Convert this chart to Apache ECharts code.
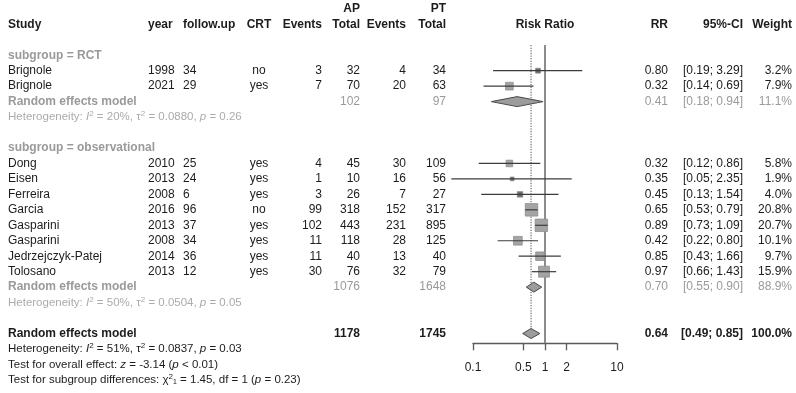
<!DOCTYPE html>
<html>
<head>
<meta charset="utf-8">
<script src="https://cdn.jsdelivr.net/npm/echarts@6/dist/echarts.min.js"></script>
<style>
html, body { margin: 0; padding: 0; background: #fff; }
#forest { width: 796px; height: 393px; }
</style>
</head>
<body>
<div id="forest"></div>
<script>
// studies (one entry per row of the table)
var studies   = ['Brignole', 'Brignole', 'Dong', 'Eisen', 'Ferreira', 'Garcia', 'Gasparini', 'Gasparini', 'Jedrzejczyk-Patej', 'Tolosano'];
var subgroup  = ['RCT', 'RCT', 'observational', 'observational', 'observational', 'observational', 'observational', 'observational', 'observational', 'observational'];
var years     = [1998, 2021, 2010, 2013, 2008, 2016, 2013, 2008, 2014, 2013];
var followUp  = [34, 29, 25, 24, 6, 96, 37, 34, 36, 12];
var crt       = ['no', 'yes', 'yes', 'yes', 'yes', 'no', 'yes', 'yes', 'yes', 'yes'];
var apEvents  = [3, 7, 4, 1, 3, 99, 102, 11, 11, 30];
var apTotal   = [32, 70, 45, 10, 26, 318, 443, 118, 40, 76];
var ptEvents  = [4, 20, 30, 16, 7, 152, 231, 28, 13, 32];
var ptTotal   = [34, 63, 109, 56, 27, 317, 895, 125, 40, 79];
var rr        = [0.80, 0.32, 0.32, 0.35, 0.45, 0.65, 0.89, 0.42, 0.85, 0.97];
var lower     = [0.19, 0.14, 0.12, 0.05, 0.13, 0.53, 0.73, 0.22, 0.43, 0.66];
var upper     = [3.29, 0.69, 0.86, 2.35, 1.54, 0.79, 1.09, 0.80, 1.66, 1.43];
var weight    = [3.2, 7.9, 5.8, 1.9, 4.0, 20.8, 20.7, 10.1, 9.7, 15.9];

// pooled estimates: RCT, observational, overall
var poolGroups  = ['RCT', 'observational', 'overall'];
var poolRR      = [0.41, 0.70, 0.64];
var poolLower   = [0.18, 0.55, 0.49];
var poolUpper   = [0.94, 0.90, 0.85];
var poolWeight  = [11.1, 88.9, 100.0];
var poolApTotal = [102, 1076, 1178];
var poolPtTotal = [97, 1648, 1745];
var hetI2   = ['20%', '50%', '51%'];
var hetTau2 = ['0.0880', '0.0504', '0.0837'];
var hetP    = ['0.26', '0.05', '0.03'];
var overallTest  = 'Test for overall effect: {i|z} = -3.14 ({i|p} < 0.01)';
var subgroupTest = 'Test for subgroup differences: χ{s|2}{i|}₁ = 1.45, df = 1 ({i|p} = 0.23)';

var axisTicks = [0.1, 0.5, 1, 2, 10];

// layout
var ROW0 = 8.86, ROW_H = 15.46;          // pixel y of row 0 and row height
var AXIS_Y = 343.3;
var FONT = 'Liberation Sans, Arial, sans-serif';
var BLACK = '#1c1c1c', GRAY = '#9a9a9a', LIGHT = '#ababab';
var col = { study: 8, year: 148, follow: 183, crt: 259, apEv: 322, apTot: 360,
            ptEv: 406, ptTot: 446, plot: 545, rr: 668, ci: 743, w: 792 };

var styles = {
  b:  { color: BLACK, weight: 'bold',   size: 12 },
  n:  { color: BLACK, weight: 'normal', size: 12 },
  g:  { color: GRAY,  weight: 'normal', size: 12 },
  gb: { color: GRAY,  weight: 'bold',   size: 12 },
  h:  { color: LIGHT, weight: 'normal', size: 11.5 },
  hb: { color: BLACK, weight: 'normal', size: 11.5 }
};

var cells = [];
function cell(x, row, text, align, kind) {
  cells.push({ x: x, row: row, text: String(text), align: align, kind: kind });
}
function ci(l, u) { return '[' + l.toFixed(2) + '; ' + u.toFixed(2) + ']'; }

// header
cell(col.apTot, 0, 'AP', 'right', 'b');
cell(col.ptTot, 0, 'PT', 'right', 'b');
cell(col.study, 1, 'Study', 'left', 'b');
cell(col.year, 1, 'year', 'left', 'b');
cell(col.follow, 1, 'follow.up', 'left', 'b');
cell(col.crt, 1, 'CRT', 'center', 'b');
cell(col.apEv, 1, 'Events', 'right', 'b');
cell(col.apTot, 1, 'Total', 'right', 'b');
cell(col.ptEv, 1, 'Events', 'right', 'b');
cell(col.ptTot, 1, 'Total', 'right', 'b');
cell(col.plot, 1, 'Risk Ratio', 'center', 'b');
cell(col.rr, 1, 'RR', 'right', 'b');
cell(col.ci, 1, '95%-CI', 'right', 'b');
cell(col.w, 1, 'Weight', 'right', 'b');

var studyRows = [], poolRows = [];
var row = 3;
[0, 1].forEach(function (g) {
  cell(col.study, row, 'subgroup = ' + poolGroups[g], 'left', 'gb');
  row++;
  studies.forEach(function (s, i) {
    if (subgroup[i] !== poolGroups[g]) return;
    studyRows[i] = row;
    cell(col.study, row, s, 'left', 'n');
    cell(col.year, row, years[i], 'left', 'n');
    cell(col.follow, row, followUp[i], 'left', 'n');
    cell(col.crt, row, crt[i], 'center', 'n');
    cell(col.apEv, row, apEvents[i], 'right', 'n');
    cell(col.apTot, row, apTotal[i], 'right', 'n');
    cell(col.ptEv, row, ptEvents[i], 'right', 'n');
    cell(col.ptTot, row, ptTotal[i], 'right', 'n');
    cell(col.rr, row, rr[i].toFixed(2), 'right', 'n');
    cell(col.ci, row, ci(lower[i], upper[i]), 'right', 'n');
    cell(col.w, row, weight[i].toFixed(1) + '%', 'right', 'n');
    row++;
  });
  poolRows[g] = row;
  cell(col.study, row, 'Random effects model', 'left', 'gb');
  cell(col.apTot, row, poolApTotal[g], 'right', 'g');
  cell(col.ptTot, row, poolPtTotal[g], 'right', 'g');
  cell(col.rr, row, poolRR[g].toFixed(2), 'right', 'g');
  cell(col.ci, row, ci(poolLower[g], poolUpper[g]), 'right', 'g');
  cell(col.w, row, poolWeight[g].toFixed(1) + '%', 'right', 'g');
  row++;
  cell(col.study, row, 'Heterogeneity: {i|I}{s|2} = ' + hetI2[g] + ', τ{s|2} = ' + hetTau2[g] + ', {i|p} = ' + hetP[g], 'left', 'h');
  row += 2;
});
// overall
poolRows[2] = row;
cell(col.study, row, 'Random effects model', 'left', 'b');
cell(col.apTot, row, poolApTotal[2], 'right', 'b');
cell(col.ptTot, row, poolPtTotal[2], 'right', 'b');
cell(col.rr, row, poolRR[2].toFixed(2), 'right', 'b');
cell(col.ci, row, ci(poolLower[2], poolUpper[2]), 'right', 'b');
cell(col.w, row, poolWeight[2].toFixed(1) + '%', 'right', 'b');
cell(col.study, row + 1, 'Heterogeneity: {i|I}{s|2} = ' + hetI2[2] + ', τ{s|2} = ' + hetTau2[2] + ', {i|p} = ' + hetP[2], 'left', 'hb');
cell(col.study, row + 2, overallTest, 'left', 'hb');
cell(col.study, row + 3, subgroupTest, 'left', 'hb');

var yMin = -ROW0 / ROW_H;
var yAxisEnd = (AXIS_Y - ROW0) / ROW_H;
var lineTop = 2.34;

var myChart = echarts.init(document.getElementById('forest'), null, { renderer: 'canvas' });

var option = {
  animation: false,
  backgroundColor: '#fff',
  grid: [
    { left: 473, top: 0, width: 144, height: AXIS_Y },
    { left: 0, top: 0, width: 796, height: 393 }
  ],
  xAxis: [
    {
      type: 'log', logBase: 10, min: 0.1, max: 10, gridIndex: 0, position: 'bottom',
      axisLine: { show: true, onZero: false, lineStyle: { color: '#5a5a5a', width: 1.3 } },
      axisTick: { show: true, length: 7, customValues: axisTicks, lineStyle: { color: '#5a5a5a', width: 1.3 } },
      axisLabel: {
        customValues: axisTicks, margin: 18, fontSize: 12, color: BLACK, fontFamily: FONT,
        formatter: function (v) { return String(Number(Number(v).toPrecision(3))); }
      },
      splitLine: { show: false },
      minorTick: { show: false }
    },
    { type: 'value', min: 0, max: 796, gridIndex: 1, show: false }
  ],
  yAxis: [
    { type: 'value', inverse: true, min: yMin, max: yAxisEnd, gridIndex: 0, show: false },
    { type: 'value', inverse: true, min: yMin, max: (393 - ROW0) / ROW_H, gridIndex: 1, show: false }
  ],
  series: [
    {
      // line of no effect
      type: 'line', xAxisIndex: 0, yAxisIndex: 0, symbol: 'none', clip: false, z: 1,
      data: [[1, lineTop], [1, yAxisEnd]],
      lineStyle: { color: '#808080', width: 1.8 }
    },
    {
      // overall pooled estimate
      type: 'line', xAxisIndex: 0, yAxisIndex: 0, symbol: 'none', clip: false, z: 1,
      data: [[poolRR[2], lineTop], [poolRR[2], poolRows[2]]],
      lineStyle: { color: '#7a7a7a', width: 1.3, type: 'dotted' }
    },
    {
      // study squares + confidence intervals
      type: 'custom', xAxisIndex: 0, yAxisIndex: 0, z: 3, clip: false,
      data: studies.map(function (s, i) { return [rr[i], lower[i], upper[i], studyRows[i], weight[i]]; }),
      encode: { x: 0, y: 3 },
      renderItem: function (params, api) {
        var r = api.value(3);
        var pc = api.coord([api.value(0), r]);
        var pl = api.coord([api.value(1), r]);
        var pu = api.coord([api.value(2), r]);
        var s = 12.5 * Math.sqrt(api.value(4) / 20.8);
        var inside = pl[0] >= pc[0] - s / 2 && pu[0] <= pc[0] + s / 2;
        return {
          type: 'group',
          children: [
            { type: 'rect', shape: { x: pc[0] - s / 2, y: pc[1] - s / 2, width: s, height: s },
              style: { fill: s < 6 ? '#6a6a6a' : '#a4a4a4', stroke: '#8f8f8f', lineWidth: 0.8 } },
            { type: 'line', shape: { x1: pl[0], y1: pc[1], x2: pu[0], y2: pc[1] },
              style: { stroke: inside ? '#e8e8e8' : '#3c3c3c', lineWidth: 1.2 } }
          ]
        };
      }
    },
    {
      // pooled diamonds
      type: 'custom', xAxisIndex: 0, yAxisIndex: 0, z: 3, clip: false,
      data: poolRR.map(function (v, i) { return [v, poolLower[i], poolUpper[i], poolRows[i]]; }),
      encode: { x: 0, y: 3 },
      renderItem: function (params, api) {
        var r = api.value(3);
        var pc = api.coord([api.value(0), r]);
        var pl = api.coord([api.value(1), r]);
        var pu = api.coord([api.value(2), r]);
        var h = 5;
        return {
          type: 'polygon',
          shape: { points: [[pl[0], pc[1]], [pc[0], pc[1] - h], [pu[0], pc[1]], [pc[0], pc[1] + h]] },
          style: { fill: '#9c9c9c', stroke: '#4a4a4a', lineWidth: 1 }
        };
      }
    },
    {
      // table text
      type: 'custom', xAxisIndex: 1, yAxisIndex: 1, z: 5, clip: false,
      data: cells.map(function (c) { return [c.x, c.row]; }),
      renderItem: function (params, api) {
        var c = cells[params.dataIndex];
        var st = styles[c.kind];
        var p = api.coord([c.x, c.row]);
        return {
          type: 'text', x: p[0], y: p[1],
          style: {
            text: c.text, fill: st.color, fontSize: st.size, fontWeight: st.weight, fontFamily: FONT,
            align: c.align, verticalAlign: 'middle',
            rich: {
              i: { fontStyle: 'italic', fontSize: st.size, fontWeight: st.weight, fontFamily: FONT, fill: st.color },
              s: { fontSize: st.size * 0.7, fontFamily: FONT, fill: st.color, verticalAlign: 'top', padding: [0, 0, 6, 0] }
            }
          }
        };
      }
    }
  ]
};

myChart.setOption(option);
</script>
</body>
</html>
